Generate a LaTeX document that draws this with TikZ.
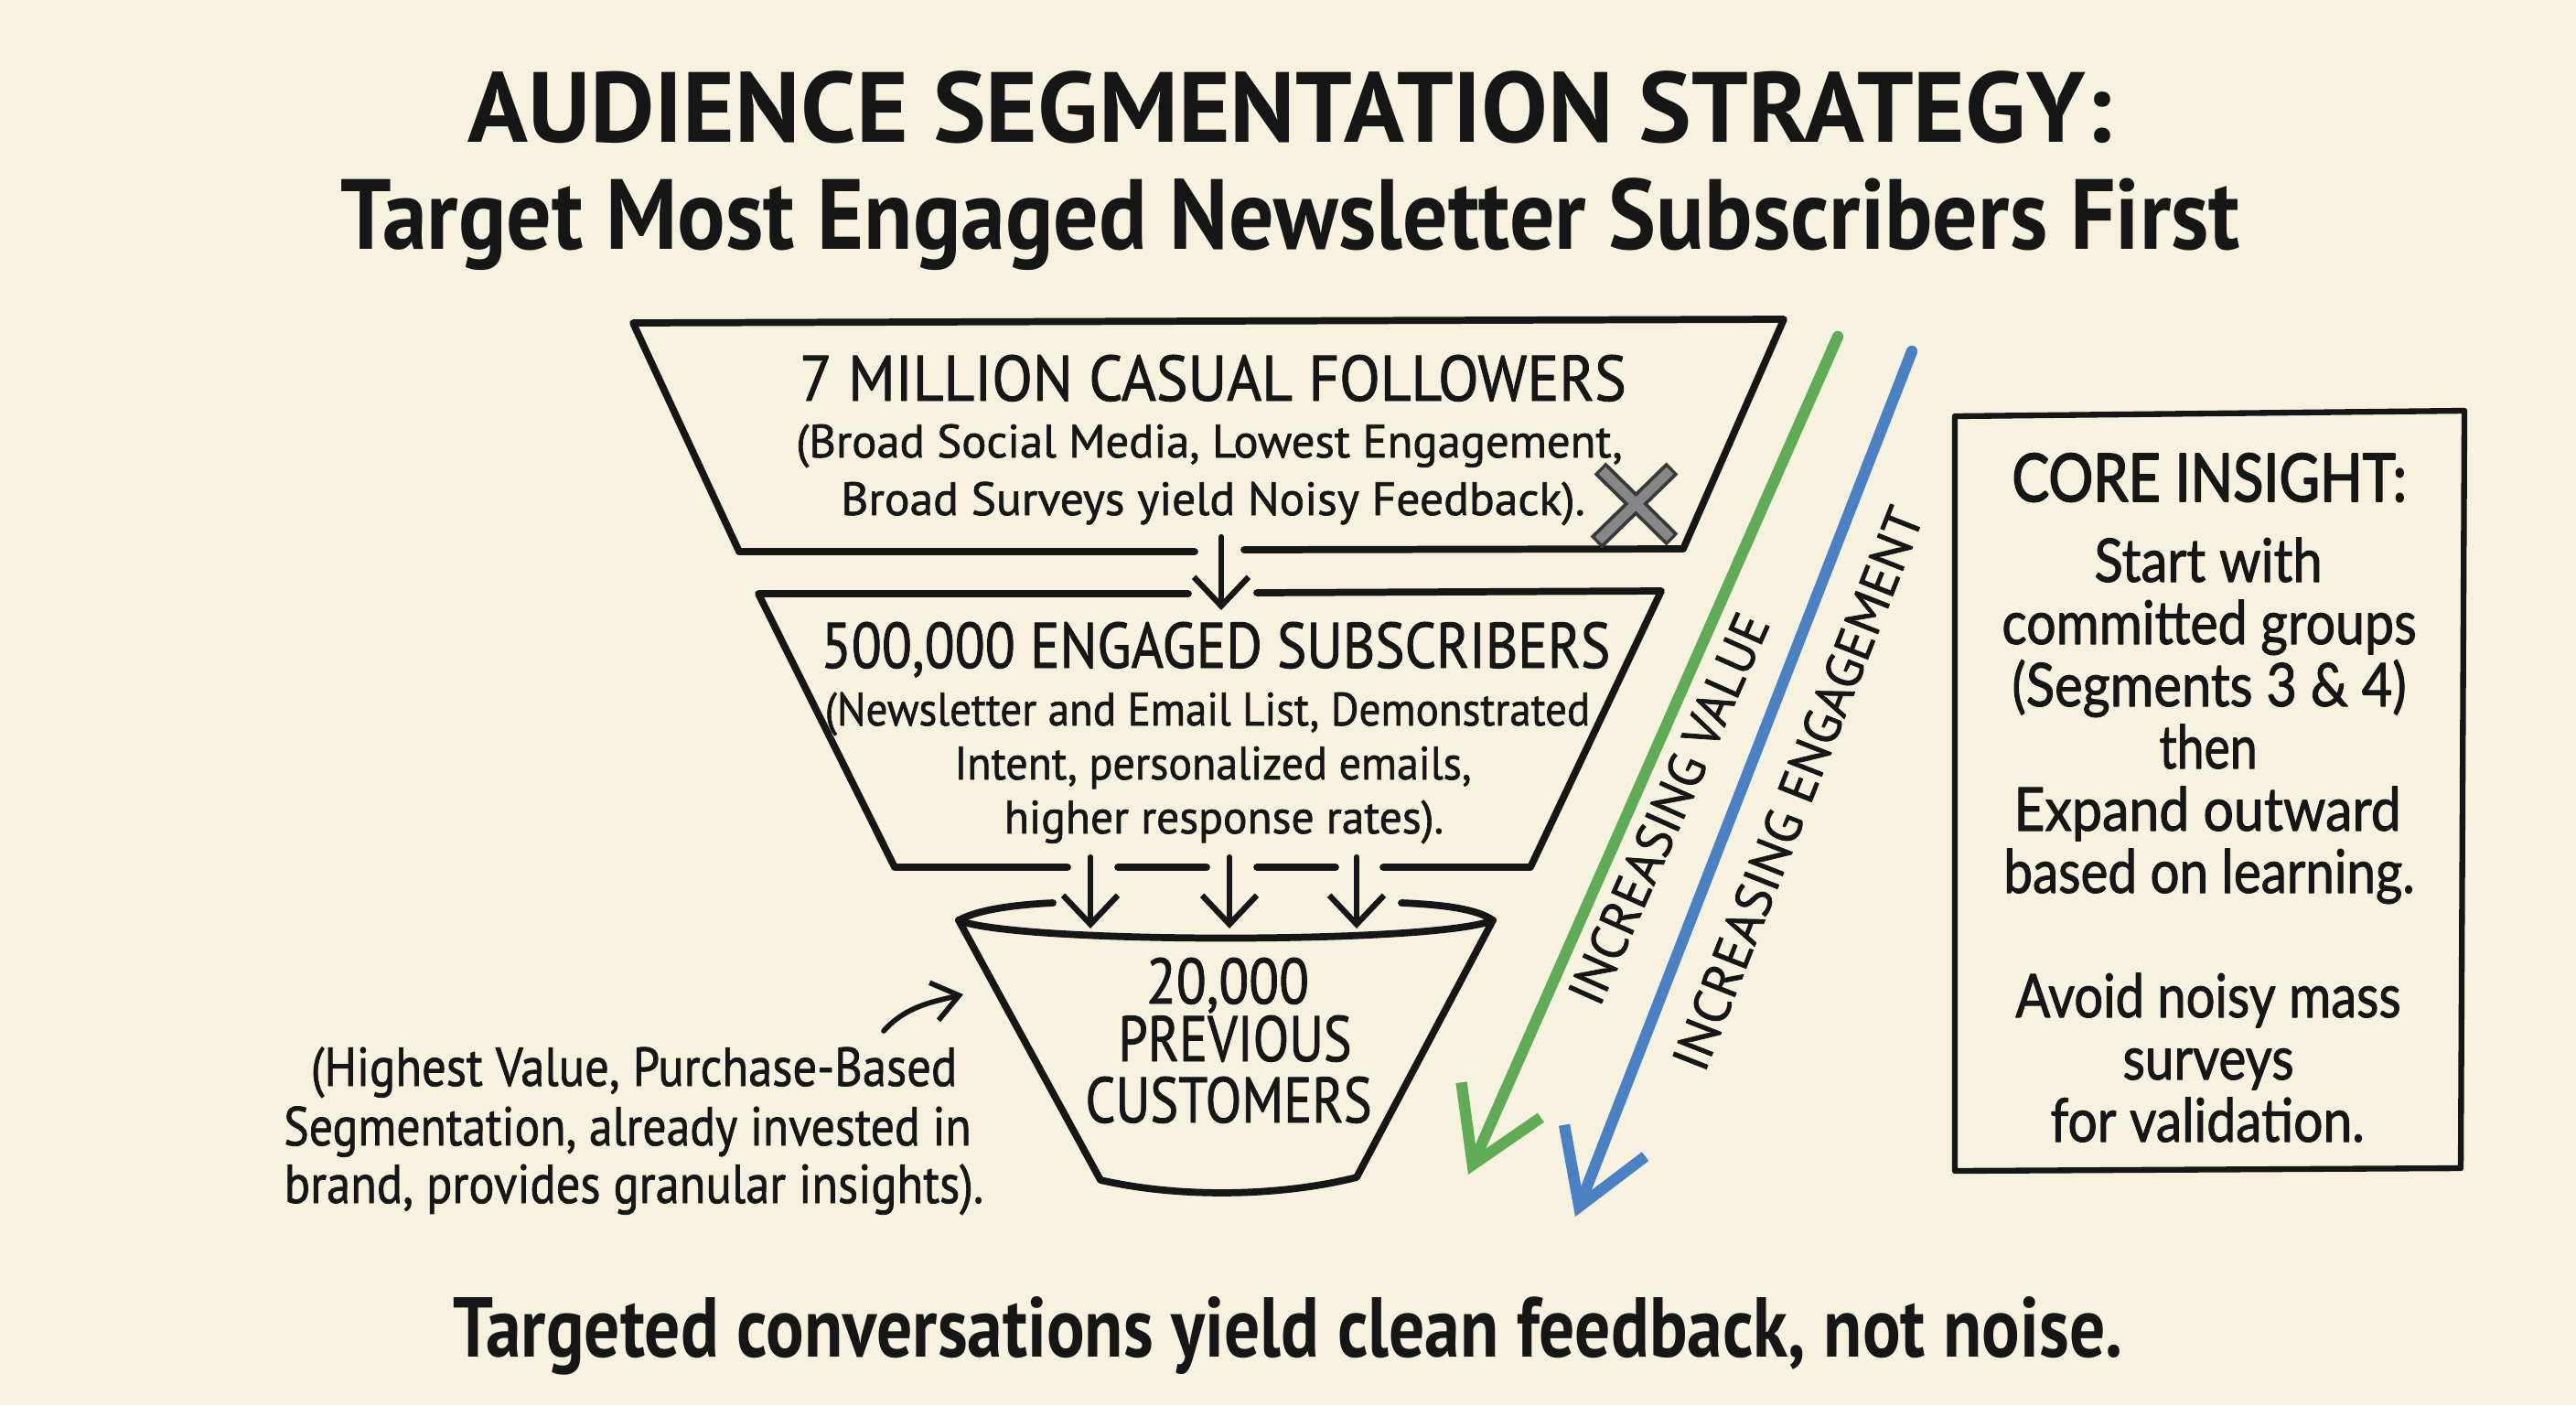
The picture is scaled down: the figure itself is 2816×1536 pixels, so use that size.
\documentclass[tikz,border=0pt]{standalone}
\usepackage{fontspec}
\setmainfont{PT Sans}[FakeBold=1.3]
\newfontfamily\titlesans{PT Sans Bold}
\newfontfamily\corefont{Lato}[FakeBold=1.6]
\newfontfamily\coreheadfont{Lato}[FakeBold=2.6]
\usetikzlibrary{arrows.meta,calc}
\definecolor{bg}{RGB}{247,241,224}
\definecolor{ink}{RGB}{22,22,22}
\definecolor{vgreen}{RGB}{96,172,86}
\definecolor{eblue}{RGB}{74,128,196}
\definecolor{xgray}{RGB}{135,135,135}
\newcommand\fitw[2]{\resizebox{#1}{\height}{#2}}
\tikzset{
  outline/.style={draw=ink, line width=2.2pt},
  flowarrow/.style={draw=ink, line width=1.8pt, -{Straight Barb[length=9pt,width=17pt]}},
  notearrow/.style={draw=ink, line width=1.6pt, -{Straight Barb[length=8pt,width=12pt]}},
  trendarrow/.style={line width=3.5pt, -{Straight Barb[length=22pt,width=27pt]}},
  txt/.style={inner sep=0pt, outer sep=0pt, text=ink, anchor=base},
  titlefont/.style={font=\titlesans\fontsize{31}{37}\selectfont},
  headfont/.style={font=\fontsize{20}{24}\selectfont},
  subfont/.style={font=\fontsize{14.5}{17}\selectfont},
  notefont/.style={font=\fontsize{17}{20}\selectfont},
  corefontbody/.style={font=\corefont\fontsize{18.7}{22}\selectfont},
  corefonthead/.style={font=\coreheadfont\fontsize{20.6}{24}\selectfont},
  trendfont/.style={font=\fontsize{16}{19}\selectfont}
}
\begin{document}
\begin{tikzpicture}[x=0.01cm, y=-0.01cm, line cap=round, line join=round]
\fill[bg] (0,0) rectangle (2816,1536);
\useasboundingbox (0,0) rectangle (2816,1536);

% titles
\node[txt, titlefont] (title1) at (1410,155) {\fitw{17.96cm}{AUDIENCE SEGMENTATION STRATEGY:}};
\node[txt, titlefont] (title2) at (1411,272) {\fitw{20.75cm}{Target Most Engaged Newsletter Subscribers First}};

% top funnel segment
\coordinate (a1) at (808,603); \coordinate (a2) at (692,353);
\coordinate (a3) at (1950,349); \coordinate (a4) at (1840,600);
\coordinate (ag1) at (1306,603); \coordinate (ag2) at (1360,601);
\draw[outline] (ag1) -- (a1) -- (a2) -- (a3) -- (a4) -- (ag2);

\node[txt, headfont] (seg1head) at (1326,438) {\fitw{9.03cm}{7 MILLION CASUAL FOLLOWERS}};
\node[txt, subfont] (seg1a) at (1322,500) {\fitw{9.03cm}{(Broad Social Media, Lowest Engagement,}};
\node[txt, subfont] (seg1b) at (1326,563) {\fitw{8.13cm}{Broad Surveys yield Noisy Feedback).}};

% X mark
\coordinate (x1) at (1749,512); \coordinate (x2) at (1828,590);
\coordinate (x3) at (1828,512); \coordinate (x4) at (1745,593);
\draw[ink!85, line width=5.2pt, line cap=butt] (x1) -- (x2) (x3) -- (x4);
\draw[xgray, line width=3pt, line cap=butt] ($(x1)!0.03!(x2)$) -- ($(x2)!0.03!(x1)$);
\draw[xgray, line width=3pt, line cap=butt] ($(x3)!0.03!(x4)$) -- ($(x4)!0.03!(x3)$);

% middle funnel segment
\coordinate (b1) at (829,649); \coordinate (b2) at (978,948);
\coordinate (b3) at (1673,948); \coordinate (b4) at (1816,646);
\coordinate (bg1) at (1299,649); \coordinate (bg2) at (1374,648);
\draw[outline] (bg1) -- (b1) -- (b2) -- (1167,948);
\draw[outline] (1222,948) -- (1319,948);
\draw[outline] (1374,948) -- (1460,948);
\draw[outline] (1512,948) -- (b3) -- (b4) -- (bg2);

\node[txt, headfont] (seg2head) at (1329,730) {\fitw{8.62cm}{500,000 ENGAGED SUBSCRIBERS}};
\node[txt, subfont] (seg2a) at (1320,793) {\fitw{8.36cm}{(Newsletter and Email List, Demonstrated}};
\node[txt, subfont] (seg2b) at (1326,852) {\fitw{5.65cm}{Intent, personalized emails,}};
\node[txt, subfont] (seg2c) at (1338,911) {\fitw{4.80cm}{higher response rates).}};

% arrow top -> middle
\coordinate (f1s) at (1335,587); \coordinate (f1e) at (1335,667);
\draw[flowarrow] (f1s) -- (f1e);

% bottom cup
\coordinate (c1) at (1048,1006); \coordinate (c2) at (1632,1006);
\coordinate (c3) at (1483,1287); \coordinate (c4) at (1203,1290);
\draw[outline] (c1) .. controls (1110,1032) and (1570,1032) .. (c2);
\draw[outline] (c1) .. controls (1070,994) and (1110,989) .. (1151,987);
\draw[outline] (1532,987) .. controls (1580,989) and (1615,994) .. (c2);
\draw[outline] (c1) -- (c4) .. controls (1290,1310) and (1400,1308) .. (c3) -- (c2);

\node[txt, headfont] (seg3a) at (1342,1097) {\fitw{1.78cm}{20,000}};
\node[txt, headfont] (seg3b) at (1350,1160) {\fitw{2.55cm}{PREVIOUS}};
\node[txt, headfont] (seg3c) at (1343,1227) {\fitw{3.13cm}{CUSTOMERS}};

% arrows middle -> cup
\coordinate (f2s) at (1192,937); \coordinate (f2e) at (1192,1015);
\coordinate (f3s) at (1344,937); \coordinate (f3e) at (1344,1015);
\coordinate (f4s) at (1483,937); \coordinate (f4e) at (1483,1015);
\draw[flowarrow] (f2s) -- (f2e);
\draw[flowarrow] (f3s) -- (f3e);
\draw[flowarrow] (f4s) -- (f4e);

% left note
\node[txt, notefont] (note1) at (693,1187) {\fitw{7.06cm}{(Highest Value, Purchase-Based}};
\node[txt, notefont] (note2) at (686,1252) {\fitw{7.51cm}{Segmentation, already invested in}};
\node[txt, notefont] (note3) at (693,1315) {\fitw{7.64cm}{brand, provides granular insights).}};
\coordinate (ns) at (966,1127); \coordinate (ne) at (1053,1087);
\draw[notearrow] (ns) .. controls (990,1100) and (1020,1095) .. (ne);

% trend arrows
\coordinate (gs) at (2009,368); \coordinate (ge) at (1605,1284);
\coordinate (es) at (2090,384); \coordinate (ee) at (1722,1330);
\draw[trendarrow, vgreen] (gs) -- (ge);
\draw[trendarrow, eblue] (es) -- (ee);
\node[txt, anchor=center, trendfont, rotate=66] (valtxt) at (1824,884) {\fitw{4.6cm}{INCREASING VALUE}};
\node[txt, anchor=center, trendfont, rotate=68.5] (engtxt) at (1965,862) {\fitw{6.55cm}{INCREASING ENGAGEMENT}};

% core insight box
\coordinate (k1) at (2137,455); \coordinate (k2) at (2694,449);
\coordinate (k3) at (2690,1277); \coordinate (k4) at (2137,1280);
\draw[draw=ink, line width=1.8pt] (k1) -- (k2) -- (k3) -- (k4) -- cycle;
\node[txt, corefonthead] (core0) at (2415,548) {\fitw{4.31cm}{CORE INSIGHT:}};
\node[txt, corefontbody] (core1) at (2414,636) {\fitw{2.49cm}{Start with}};
\node[txt, corefontbody] (core2) at (2415,704) {\fitw{4.53cm}{committed groups}};
\node[txt, corefontbody] (core3) at (2415,772) {\fitw{4.31cm}{(Segments 3 \& 4)}};
\node[txt, corefontbody] (core4) at (2414,840) {\fitw{1.07cm}{then}};
\node[txt, corefontbody] (core5) at (2413,908) {\fitw{4.23cm}{Expand outward}};
\node[txt, corefontbody] (core6) at (2415,976) {\fitw{4.49cm}{based on learning.}};
\node[txt, corefontbody] (core7) at (2414,1112) {\fitw{4.21cm}{Avoid noisy mass}};
\node[txt, corefontbody] (core8) at (2414,1180) {\fitw{1.87cm}{surveys}};
\node[txt, corefontbody] (core9) at (2413,1248) {\fitw{3.43cm}{for validation.}};

% bottom line
\node[txt, font=\titlesans\fontsize{26.4}{31}\selectfont] (bottom) at (1408,1483) {\fitw{18.24cm}{Targeted conversations yield clean feedback, not noise.}};
\end{tikzpicture}
\end{document}
